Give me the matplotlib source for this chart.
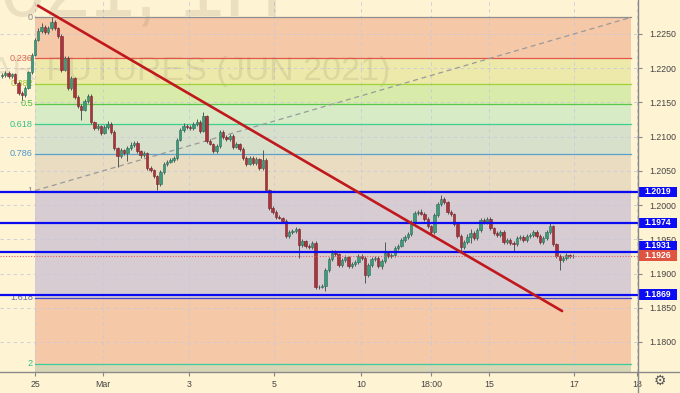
import matplotlib.pyplot as plt
import matplotlib.transforms as mtransforms
from matplotlib.patches import Rectangle
from matplotlib.lines import Line2D
import numpy as np

plt.rcParams['font.family'] = ['Liberation Sans', 'DejaVu Sans']

# ---- candle data (close per bar, open = previous close) ----
closes = [
    1.2190, 1.2193, 1.2188, 1.2191, 1.2178, 1.2164, 1.2161, 1.2171, 1.2194, 1.2219,
    1.2241, 1.2254, 1.2260, 1.2253, 1.2258, 1.2267, 1.2258, 1.2247, 1.2197, 1.2215,
    1.2171, 1.2185, 1.2158, 1.2145, 1.2139, 1.2152, 1.2159, 1.2121, 1.2112, 1.2115,
    1.2105, 1.2114, 1.2118, 1.2107, 1.2083, 1.2072, 1.2080, 1.2076, 1.2083, 1.2088,
    1.2091, 1.2079, 1.2073, 1.2076, 1.2054, 1.2051, 1.2042, 1.2031, 1.2048, 1.2060,
    1.2063, 1.2066, 1.2069, 1.2095, 1.2110, 1.2115, 1.2114, 1.2112, 1.2118, 1.2121,
    1.2108, 1.2130, 1.2093, 1.2089, 1.2079, 1.2086, 1.2107, 1.2099, 1.2096, 1.2101,
    1.2085, 1.2089, 1.2082, 1.2069, 1.2060, 1.2069, 1.2061, 1.2067, 1.2054, 1.2066,
    1.2022, 1.1996, 1.1990, 1.1982, 1.1981, 1.1977, 1.1955, 1.1961, 1.1962, 1.1965,
    1.1942, 1.1947, 1.1940, 1.1939, 1.1945, 1.1880, 1.1881, 1.1882, 1.1905, 1.1921,
    1.1930, 1.1928, 1.1912, 1.1920, 1.1924, 1.1911, 1.1914, 1.1917, 1.1926, 1.1923,
    1.1898, 1.1912, 1.1921, 1.1923, 1.1911, 1.1918, 1.1930, 1.1926, 1.1927, 1.1937,
    1.1940, 1.1949, 1.1953, 1.1958, 1.1975, 1.1988, 1.1990, 1.1987, 1.1980, 1.1969,
    1.1961, 1.1985, 1.2001, 1.2009, 1.2004, 1.1990, 1.1987, 1.1972, 1.1955, 1.1939,
    1.1946, 1.1954, 1.1959, 1.1952, 1.1964, 1.1978, 1.1975, 1.1980, 1.1966, 1.1959,
    1.1956, 1.1961, 1.1946, 1.1949, 1.1945, 1.1943, 1.1952, 1.1953, 1.1949, 1.1955,
    1.1956, 1.1961, 1.1955, 1.1946, 1.1952, 1.1961, 1.1969, 1.1943, 1.1926, 1.1920,
    1.1923, 1.1927, 1.1925, 1.1926,
]
first_open = 1.2188
# wick lengths in pips, one base-36 digit per bar
wick_up = ("2322232323" "3453473222" "3322333323" "2343223234" "3223232233"
           "3233343334" "3623233233" "232233232f" "2232322333" "2323322233"
           "4523323333" "233323g233" "3333333432" "2336323222" "3363333322"
           "3323333333" "3322335222" "3322")
wick_dn = ("2323237323" "2233333332" "3333f23333" "32333g33c3" "3343333933"
           "3233233333" "3232333323" "3233323233" "3333233333" "j333333273"
           "3323333333" "c333343333" "3233333233" "3333333336" "33a3333333"
           "33333c3333" "333333333f" "3333")

# ---- fibonacci retracement ----
fib_price_0 = 1.2274
fib_price_1 = 1.2021
fib_x = [10, 190.6]
fib_levels = [0, 0.236, 0.382, 0.5, 0.618, 0.786, 1, 1.618, 2, 2.618]
fib_labels = ['0', '0.236', '0.382', '0.5', '0.618', '0.786', '1', '1.618', '2']
fib_line_colors = ['#8f8f8f', '#e5564a', '#9fd33a', '#59c84a', '#3fcf8f',
                   '#5b9fcc', '#8f8f8f', '#4848c8', '#3ccb9c']
fib_text_colors = ['#8a8a8a', '#e06a58', '#a2c52a', '#4cbf3c', '#2fbf8a',
                   '#4a98d0', '#8a8a8a', '#6a6aa6', '#2fc08e']
fib_band_colors = ['#f5c8a8', '#ece9aa', '#d9ebab', '#d6ebc6', '#d6e0cb',
                   '#e9dcc0', '#d7ccd2', '#f5c8a8', '#d9d6b6']

# ---- drawings ----
levels = [1.2019, 1.1974, 1.1931, 1.1869]
level_label_y = [1.2019, 1.1974, 1.19405, 1.1869]
last_price = 1.1926
trend_x = [10.9, 169.7]
trend_y = [1.2291, 1.18452]

time_ticks = [10, 30.6, 56.7, 82.4, 108.8, 130, 147.6, 173.3, 192.4]
time_labels = ['25', 'Mar', '3', '5', '10', '18:00', '15', '17', '18']
price_ticks = [1.1800, 1.1850, 1.1900, 1.1950, 1.2000, 1.2050,
               1.2100, 1.2150, 1.2200, 1.2250]

bg = '#fef3d2'
up_color, dn_color = '#3d9a7a', '#a8343c'
up_edge, dn_edge = '#2b6e57', '#7a2228'
wick_color = '#4f5a58'

W, H = 680, 393
fig = plt.figure(figsize=(W / 100, H / 100), dpi=100, facecolor=bg)
ax = fig.add_axes([0, 21 / H, 638 / W, 372 / H])
ax.set_facecolor(bg)
ax.set_xlim(-0.606, 192.7)
ax.set_ylim(1.17562, 1.22993)
for s in ax.spines.values():
    s.set_visible(False)

# fib bands + lines
rng = fib_price_0 - fib_price_1
fib_prices = [fib_price_0 - l * rng for l in fib_levels]
for k in range(len(fib_levels) - 1):
    ax.fill_between(fib_x, fib_prices[k], fib_prices[k + 1],
                    color=fib_band_colors[k], lw=0, zorder=0.5)
for k, lab in enumerate(fib_labels):
    ax.plot(fib_x, [fib_prices[k]] * 2, color=fib_line_colors[k], lw=0.9, zorder=2)
    ax.annotate(lab, (fib_x[0], fib_prices[k]), xytext=(-1.5, 0),
                textcoords='offset points', ha='right', va='center',
                fontsize=6.6, color=fib_text_colors[k], zorder=2)

# grid
ax.set_xticks(time_ticks, time_labels)
ax.set_yticks(price_ticks, [f'{p:.4f}' for p in price_ticks])
ax.grid(True, color='#c9c9d9', linestyle=(0, (4, 4)), lw=0.6, zorder=1)
ax.set_axisbelow(True)

# watermark
ax.text(283 / 638, (372 - 15) / 372, 'EURUSD 6EM2021, 1H', transform=ax.transAxes,
        ha='right', va='baseline', fontsize=58, color='#7a6a50', alpha=0.14, zorder=1.5)
ax.text(390 / 638, (372 - 80) / 372, 'EURO FX/US DOLLAR FUTURES (JUN 2021)',
        transform=ax.transAxes, ha='right', va='baseline', fontsize=24.5,
        color='#7a6a50', alpha=0.14, zorder=1.5)

# fib trend line (dashed)
ax.plot(fib_x, [fib_price_1, fib_price_0], color='#9a9a9a', lw=0.9,
        linestyle=(0, (4, 3)), zorder=2)

# candles
x = np.arange(len(closes))
c = np.array(closes)
o = np.array([first_open] + closes[:-1])
wu = np.array([int(ch, 36) for ch in wick_up[:len(c)]]) * 0.0001
wd = np.array([int(ch, 36) for ch in wick_dn[:len(c)]]) * 0.0001
hi = np.maximum(o, c) + wu
lo = np.minimum(o, c) - wd
up = c >= o
ax.vlines(x, lo, hi, color=wick_color, lw=0.7, zorder=4)
body = np.maximum(np.abs(c - o), 0.00008)
ax.bar(x[up], body[up], bottom=np.minimum(o, c)[up], width=0.72,
       color=up_color, edgecolor=up_edge, lw=0.4, zorder=4.5)
ax.bar(x[~up], body[~up], bottom=np.minimum(o, c)[~up], width=0.72,
       color=dn_color, edgecolor=dn_edge, lw=0.4, zorder=4.5)

# horizontal levels
for p in levels:
    ax.axhline(p, color='#0b0bf2', lw=1.6, zorder=5)
ax.axhline(last_price, color='#e06060', lw=0.8, linestyle=(0, (1, 1.5)), zorder=5)

# red trend line
ax.plot(trend_x, trend_y, color='#c0181c', lw=1.9, zorder=6, solid_capstyle='round')

# axes ticks
ax.yaxis.tick_right()
ax.tick_params(axis='y', length=3, pad=5, labelsize=6.3, colors='#444444',
               width=0.8, color='#888888')
ax.tick_params(axis='x', length=3, pad=2.5, labelsize=6.3, colors='#444444',
               width=0.8, color='#888888')

# price labels on the scale
tr = mtransforms.blended_transform_factory(fig.transFigure, ax.transData)
box_h = 10.5 / 6850
for p, py in zip(levels, level_label_y):
    ax.add_patch(Rectangle((639 / W, py - box_h / 2), 38 / W, box_h, transform=tr,
                           facecolor='#0c0cf5', edgecolor='none', clip_on=False, zorder=10))
    ax.text(658 / W, py, f'{p:.4f}', transform=tr, ha='center', va='center',
            fontsize=6.2, color='white', fontweight='bold', zorder=11, clip_on=False)
ax.add_patch(Rectangle((639 / W, last_price - box_h / 2), 38 / W, box_h, transform=tr,
                       facecolor='#e0533f', edgecolor='none', clip_on=False, zorder=10))
ax.text(658 / W, last_price, f'{last_price:.4f}', transform=tr, ha='center', va='center',
        fontsize=6.2, color='white', fontweight='bold', zorder=11, clip_on=False)

# scale borders
fig.add_artist(Line2D([0, 1], [21 / H, 21 / H], color='#8a8a8a', lw=1))
fig.add_artist(Line2D([638 / W, 638 / W], [0, 1], color='#8a8a8a', lw=1))
fig.text(660 / W, 1 - 381 / H, '\u2699', fontsize=10, ha='center', va='center',
         color='#555555', family='DejaVu Sans')

fig.savefig('out.png', dpi=100, facecolor=bg)
